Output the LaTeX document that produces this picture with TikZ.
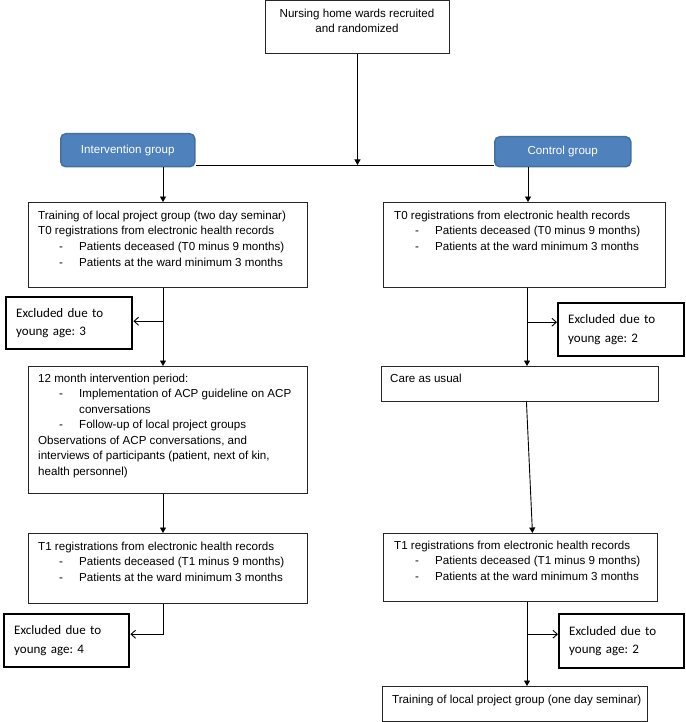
\documentclass[tikz,border=0pt]{standalone}
\usepackage{fontspec}
\setmainfont{Liberation Sans}
\newfontfamily\calib{Carlito}
\usetikzlibrary{arrows.meta,calc}
\definecolor{ablue}{RGB}{79,129,189}
\definecolor{ablueb}{RGB}{65,113,156}
\newcommand\dashitem[1]{\makebox[41pt][l]{\hspace*{21pt}-}#1}
\frenchspacing
\begin{document}
\begin{tikzpicture}[x=1pt,y=-1pt,
  box/.style={draw=black!85, line width=0.9pt, inner sep=0pt, anchor=north west},
  txt/.style={inner sep=0pt, anchor=north west, align=left, font=\fontsize{11.6}{15.7}\selectfont},
  excl/.style={draw=black, line width=2.4pt, inner xsep=10pt, inner ysep=0pt, align=left, anchor=north west, font=\calib\fontsize{13}{18.5}\selectfont},
  grp/.style={draw=ablueb, line width=1.5pt, fill=ablue, rounded corners=5pt, text=white, font=\fontsize{11.6}{14}\selectfont, anchor=north west, inner sep=0pt},
  arr/.style={line width=0.9pt, -{Triangle[length=5.5pt,width=6pt]}},
  oarr/.style={line width=0.9pt, -{Straight Barb[length=4.5pt,width=8pt]}},
  ln/.style={line width=0.9pt}]
\useasboundingbox (0,0) rectangle (685,722);

% x positions of the vertical flows
\coordinate (xl) at (163,0);
\coordinate (xr) at (527,0);

% boxes
\node[box, minimum width=184pt, minimum height=53pt] (top) at (265,0.5) {};
\node[txt, anchor=north, align=center, font=\fontsize{11.6}{15.3}\selectfont] (topT) at (357,8.6) {Nursing home wards recruited\\and randomized};

\node[grp, minimum width=134pt, minimum height=33pt] (iv) at (60,133) {Intervention group};
\node[grp, minimum width=136pt, minimum height=30pt] (cg) at (494,136) {Control group};

\node[box, minimum width=279pt, minimum height=85pt] (b1) at (28,202) {};
\node[txt] (b1T) at (38,210.6) {Training of local project group (two day seminar)\\T0 registrations from electronic health records\\\dashitem{Patients deceased (T0 minus 9 months)}\\\dashitem{Patients at the ward minimum 3 months}};

\node[box, minimum width=282pt, minimum height=85pt] (b2) at (383,202) {};
\node[txt] (b2T) at (394,210.6) {T0 registrations from electronic health records\\\dashitem{Patients deceased (T0 minus 9 months)}\\\dashitem{Patients at the ward minimum 3 months}};

\node[excl, text width=106pt, minimum height=52pt] (ex1) at (5,296) {Excluded due to\\young age: 3};
\node[excl, text width=106pt, minimum height=53pt] (ex2) at (557,302) {Excluded due to\\young age: 2};

\node[box, minimum width=279pt, minimum height=127pt] (b3) at (28,366) {};
\node[txt, font=\fontsize{11.6}{15.5}\selectfont] (b3T) at (38,373.6) {12 month intervention period:\\\dashitem{Implementation of ACP guideline on ACP}\\\hspace*{41pt}conversations\\\dashitem{Follow-up of local project groups}\\Observations of ACP conversations, and\\interviews of participants (patient, next of kin,\\health personnel)};

\node[box, minimum width=277pt, minimum height=35pt] (care) at (381,366) {};
\node[txt] (careT) at (390,373.6) {Care as usual};

\node[box, minimum width=279pt, minimum height=70pt] (t1l) at (28,533) {};
\node[txt] (t1lT) at (38,541.6) {T1 registrations from electronic health records\\\dashitem{Patients deceased (T1 minus 9 months)}\\\dashitem{Patients at the ward minimum 3 months}};

\node[box, minimum width=274pt, minimum height=68pt] (t1r) at (383,533) {};
\node[txt] (t1rT) at (394,540.6) {T1 registrations from electronic health records\\\dashitem{Patients deceased (T1 minus 9 months)}\\\dashitem{Patients at the ward minimum 3 months}};

\node[excl, text width=105pt, minimum height=53pt] (ex3) at (3,613) {Excluded due to\\young age: 4};
\node[excl, text width=105pt, minimum height=54pt] (ex4) at (558,613) {Excluded due to\\young age: 2};

\node[box, minimum width=265pt, minimum height=35pt] (fin) at (382,686) {};
\node[txt] (finT) at (392,694.6) {Training of local project group (one day seminar)};

% connectors
\coordinate (j) at (top.south |- 0,165);
\draw[ln] (iv.east |- j) -- (cg.west |- j);
\draw[arr] (top.south) -- (j);
\draw[arr] (iv.south -| xl) -- (b1.north -| xl);
\draw[arr] ([xshift=1pt]cg.south -| xr) -- ([xshift=1pt]b2.north -| xr);

\draw[arr] (b1.south -| xl) -- (b3.north -| xl);
\coordinate (br1) at ([yshift=2pt]ex1.east);
\draw[oarr] (br1 -| xl) -- (br1);

\draw[arr] (b2.south -| xr) -- (care.north -| xr);
\coordinate (br2) at ([yshift=7.5pt]ex2.west);
\draw[oarr] (br2 -| xr) -- (br2);

\draw[arr] ([xshift=6.5pt]care.south) -- ([xshift=12pt]t1r.north);

\draw[arr] (b3.south -| xl) -- (t1l.north -| xl);
\coordinate (br3) at ([yshift=6.5pt]ex3.east);
\draw[oarr] (t1l.south -| xl) |- (br3);

\draw[arr] (t1r.south -| xr) -- (fin.north -| xr);
\coordinate (br4) at ([yshift=7pt]ex4.west);
\draw[oarr] (br4 -| xr) -- (br4);
\end{tikzpicture}
\end{document}
